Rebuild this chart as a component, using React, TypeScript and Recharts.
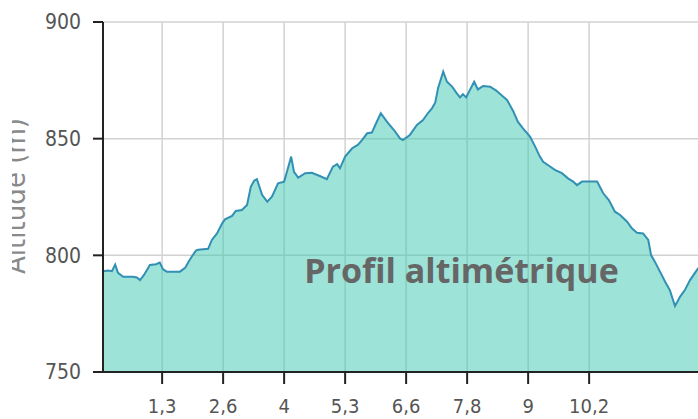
import React from 'react';
import { AreaChart, Area, XAxis, YAxis, CartesianGrid } from 'recharts';

const DISTANCE_KM = [
  0, 0.11, 0.19, 0.26, 0.32, 0.43, 0.64, 0.72, 0.79, 0.87, 1.0, 1.13, 1.21, 1.28, 1.36, 1.64, 1.75, 1.83, 1.9, 1.98,
  2.03, 2.24, 2.32, 2.43, 2.54, 2.6, 2.75, 2.83, 2.96, 3.07, 3.15, 3.22, 3.28, 3.39, 3.5, 3.6, 3.73, 3.86, 3.92, 4.01,
  4.07, 4.16, 4.31, 4.45, 4.62, 4.77, 4.9, 4.99, 5.05, 5.16, 5.31, 5.43, 5.52, 5.63, 5.73, 5.82, 5.92, 6.05, 6.2, 6.33,
  6.39, 6.54, 6.69, 6.82, 6.93, 7.01, 7.08, 7.14, 7.25, 7.33, 7.44, 7.54, 7.61, 7.67, 7.74, 7.82, 7.91, 7.99, 8.1, 8.25,
  8.38, 8.53, 8.61, 8.74, 8.84, 8.95, 9.1, 9.21, 9.31, 9.38, 9.48, 9.63, 9.78, 9.91, 10.02, 10.1, 10.21, 10.53, 10.66, 10.78,
  10.91, 11.02, 11.17, 11.27, 11.38, 11.51, 11.62, 11.68, 11.76, 11.87, 11.98, 12.08, 12.19, 12.3, 12.4, 12.51, 12.68, 12.85,
];

const ALTITUDE_M = [
  793.2, 793.5, 793.2, 796.0, 792.5, 790.8, 790.8, 790.5, 789.4, 791.5, 795.9, 796.2, 796.9, 794.0, 793.0, 793.0, 794.6, 797.5, 799.7, 802.0,
  802.4, 802.8, 806.6, 809.4, 813.7, 815.4, 816.9, 819.0, 819.4, 821.6, 829.4, 832.0, 832.6, 825.9, 823.0, 825.1, 830.9, 831.6, 835.8, 842.3,
  835.8, 833.3, 835.2, 835.4, 834.0, 832.6, 838.0, 839.1, 837.3, 842.3, 845.9, 847.3, 849.4, 852.3, 852.6, 856.6, 860.9, 857.3, 853.7, 850.1,
  849.4, 851.6, 855.9, 858.0, 861.1, 863.0, 865.4, 871.6, 878.7, 874.4, 872.3, 869.4, 867.7, 869.1, 867.7, 870.9, 874.4, 871.1, 872.6, 872.3,
  870.6, 868.0, 866.6, 861.9, 857.3, 854.4, 850.9, 846.6, 842.3, 840.1, 838.7, 836.6, 835.2, 833.0, 831.6, 830.1, 831.6, 831.6, 826.6, 823.7,
  818.7, 817.3, 814.4, 811.6, 809.7, 809.4, 806.6, 800.1, 797.3, 793.0, 788.7, 785.1, 778.3, 782.3, 785.1, 789.4, 794.4, 797.0,
];

const X_TICKS = [1.26, 2.56, 3.86, 5.16, 6.46, 7.76, 9.06, 10.36];
const X_TICK_LABELS = ['1,3', '2,6', '4', '5,3', '6,6', '7,8', '9', '10,2'];
const Y_TICKS = [750, 800, 850, 900];
const X_DOMAIN_MAX = 15.28;
const TITLE = 'Profil altimétrique';
const Y_LABEL = 'Altitude (m)';

const data = DISTANCE_KM.map((d, i) => ({ d, alt: ALTITUDE_M[i] }));

const FONT = "'DejaVu Sans Condensed', 'DejaVu Sans', sans-serif";

export default function App() {
  const fmt = (v: number) => {
    const i = X_TICKS.indexOf(v);
    return i >= 0 ? X_TICK_LABELS[i] : '';
  };
  return (
    <div
      style={{
        position: 'fixed',
        left: 0,
        top: 0,
        width: 698,
        height: 419,
        overflow: 'hidden',
        background: '#fff',
        fontFamily: FONT,
        fontStretch: 'condensed',
      }}
    >
      <AreaChart width={840} height={419} data={data} margin={{ top: 22, right: 20, bottom: 0, left: 0 }}>
        <CartesianGrid stroke="#d2d2d2" strokeWidth={1.5} />
        <XAxis
          dataKey="d"
          type="number"
          domain={[0, X_DOMAIN_MAX]}
          ticks={X_TICKS}
          tickFormatter={fmt}
          height={47}
          tickSize={12}
          tickMargin={15}
          axisLine={{ stroke: '#222', strokeWidth: 2 }}
          tickLine={{ stroke: '#222', strokeWidth: 2 }}
          tick={{ fill: '#555', fontSize: 20 }}
          allowDataOverflow
        />
        <YAxis
          type="number"
          domain={[750, 900]}
          ticks={Y_TICKS}
          width={103}
          tickSize={10}
          tickMargin={12}
          axisLine={{ stroke: '#222', strokeWidth: 2 }}
          tickLine={{ stroke: '#222', strokeWidth: 2 }}
          tick={{ fill: '#555', fontSize: 21 }}
          allowDataOverflow
        />
        <Area
          type="linear"
          dataKey="alt"
          stroke="#3190b4"
          strokeWidth={2}
          fill="#3cc8af"
          fillOpacity={0.5}
          baseValue={750}
          isAnimationActive={false}
          dot={false}
          activeDot={false}
        />
      </AreaChart>
      <svg
        width={698}
        height={419}
        style={{ position: 'absolute', left: 0, top: 0, pointerEvents: 'none' }}
      >
        <defs>
          <clipPath id="ylabel-clip">
            <rect x={12} y={0} width={100} height={419} />
          </clipPath>
        </defs>
        <g clipPath="url(#ylabel-clip)">
          <text
            x={25}
            y={196}
            transform="rotate(-90 25 196)"
            textAnchor="middle"
            fill="#8a8a8a"
            fontSize={29}
            fontFamily={FONT}
          >
            {Y_LABEL}
          </text>
        </g>
        <text
          x={461.5}
          y={283}
          textAnchor="middle"
          fill="#666"
          fontSize={34}
          fontWeight={700}
          fontFamily="'Open Sans', sans-serif"
          style={{ fontStretch: 'normal' }}
        >
          {TITLE}
        </text>
      </svg>
    </div>
  );
}
